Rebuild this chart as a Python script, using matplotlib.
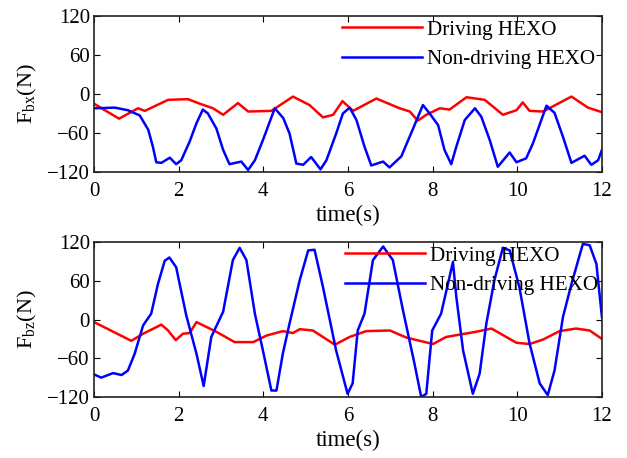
import matplotlib
matplotlib.use("Agg")
import matplotlib.pyplot as plt

# ---- data ----
t_drv_x = [0, 0.59, 1.04, 1.2, 1.75, 2.22, 2.5, 2.81, 3.05, 3.4, 3.64, 4.19, 4.7, 5.09, 5.41, 5.65,
           5.87, 6.12, 6.67, 7.22, 7.46, 7.65, 7.85, 8.17, 8.4, 8.8, 9.23, 9.66, 9.98, 10.13, 10.29,
           10.61, 11.28, 11.67, 12.0]
f_drv_x = [-15, -38, -22, -26, -9, -8, -15, -22, -32, -14, -27, -26, -4, -17, -36, -32,
           -11, -26, -7, -22, -27, -41, -32, -22, -24, -5, -9, -32, -25, -13, -26,
           -27, -4, -21, -28]

t_nd_x = [0, 0.49, 0.8, 1.08, 1.28, 1.39, 1.47, 1.59, 1.79, 1.94, 2.06, 2.26, 2.42, 2.57, 2.69, 2.89,
          3.05, 3.2, 3.48, 3.64, 3.8, 3.99, 4.27, 4.47, 4.62, 4.78, 4.94, 5.13, 5.35, 5.49, 5.72,
          5.88, 6.04, 6.2, 6.39, 6.55, 6.83, 6.98, 7.26, 7.54, 7.77, 7.93, 8.13, 8.28, 8.44, 8.56,
          8.76, 9.0, 9.15, 9.35, 9.54, 9.82, 9.98, 10.21, 10.37, 10.69, 10.88, 11.08, 11.28, 11.59,
          11.75, 11.91, 12.0]
f_nd_x = [-22, -21, -25, -33, -55, -81, -105, -106, -98, -108, -102, -73, -45, -24, -30, -53,
          -86, -108, -104, -117, -102, -71, -22, -37, -61, -107, -109, -97, -116, -102, -61,
          -30, -21, -40, -81, -110, -104, -113, -96, -53, -17, -30, -48, -86, -108, -81,
          -40, -22, -35, -71, -112, -90, -105, -99, -76, -18, -29, -66, -106, -95,
          -109, -102, -86]

t_drv_z = [0, 0.88, 1.16, 1.59, 1.75, 1.93, 2.1, 2.26, 2.42, 2.89, 3.32, 3.76, 4.07, 4.46, 4.7, 4.86,
           5.17, 5.69, 6.04, 6.43, 6.99, 7.38, 8.01, 8.32, 9.03, 9.39, 9.98, 10.29, 10.61, 11.0,
           11.39, 11.71, 12.0]
f_drv_z = [-4, -33, -22, -8, -17, -32, -22, -21, -4, -19, -35, -35, -25, -18, -21, -15,
           -17, -39, -27, -18, -17, -28, -38, -27, -19, -14, -36, -38, -31, -18,
           -14, -17, -30]

t_nd_z = [0, 0.17, 0.45, 0.65, 0.8, 0.96, 1.16, 1.35, 1.51, 1.67, 1.78, 1.94, 2.18, 2.42, 2.59, 2.77,
          3.05, 3.28, 3.44, 3.6, 3.8, 3.99, 4.19, 4.31, 4.46, 4.62, 4.86, 5.06, 5.21, 5.41, 5.72,
          5.99, 6.11, 6.23, 6.39, 6.59, 6.83, 7.06, 7.3, 7.57, 7.73, 7.85, 7.99, 8.2, 8.48, 8.56,
          8.72, 8.95, 9.11, 9.27, 9.46, 9.66, 9.82, 10.05, 10.29, 10.53, 10.72, 10.88, 11.08,
          11.28, 11.55, 11.71, 11.87, 12.0]
f_nd_z = [-85, -90, -83, -86, -79, -53, -9, 9, 55, 91, 96, 81, 6, -53, -103, -27,
          12, 92, 111, 92, 9, -48, -110, -110, -53, -6, 61, 107, 108, 50, -48,
          -115, -99, -17, 9, 92, 113, 92, 14, -68, -120, -115, -17, 9, 89, 35,
          -48, -115, -84, -6, 61, 111, 107, 50, -37, -99, -117, -79, 4,
          55, 117, 115, 86, 4]

xticks = [0, 2, 4, 6, 8, 10, 12]
yticks = [-120, -60, 0, 60, 120]
labels = ["Driving HEXO", "Non-driving HEXO"]
ylabels = [r"F$_{\mathrm{bx}}$(N)", r"F$_{\mathrm{bz}}$(N)"]
xlabel = "time(s)"

plt.rcParams["font.family"] = ["Liberation Serif", "DejaVu Serif"]
plt.rcParams["mathtext.fontset"] = "custom"
plt.rcParams["mathtext.rm"] = "Liberation Serif"
plt.rcParams["mathtext.it"] = "Liberation Serif:italic"

fig = plt.figure(figsize=(6.27, 4.58), dpi=100)
ax1 = fig.add_axes([0.150, 0.6245, 0.810, 0.3406])
ax2 = fig.add_axes([0.150, 0.1332, 0.810, 0.3384])

series = [((t_drv_x, f_drv_x), (t_nd_x, f_nd_x)), ((t_drv_z, f_drv_z), (t_nd_z, f_nd_z))]
legend_x = [0.488, 0.494]

for i, ax in enumerate([ax1, ax2]):
    (td, fd), (tn, fn) = series[i]
    ax.plot(td, fd, color="#ff0000", lw=1.8, label=labels[0], solid_joinstyle="round")
    ax.plot(tn, fn, color="#0000ff", lw=1.8, label=labels[1], solid_joinstyle="round")
    ax.set_xlim(0, 12)
    ax.set_ylim(-120, 120)
    ax.set_xticks(xticks)
    ax.set_yticks(yticks)
    ax.tick_params(direction="in", top=True, right=True, length=4, width=0.8, labelsize=15)
    ax.tick_params(axis="x", pad=7)
    ax.tick_params(axis="y", pad=3)
    for s in ax.spines.values():
        s.set_linewidth(1.2)
        s.set_color("#222222")
    ax.set_xlabel(xlabel, fontsize=16.5, labelpad=3)
    ax.set_ylabel(ylabels[i], fontsize=16, labelpad=6)
    ax.legend(loc="upper left", bbox_to_anchor=(legend_x[i], 0.975), frameon=False,
              borderpad=0, borderaxespad=0, handlelength=3.8, handletextpad=0.25,
              labelspacing=0.45, fontsize=15.2)

fig.savefig("out.png", dpi=100)
